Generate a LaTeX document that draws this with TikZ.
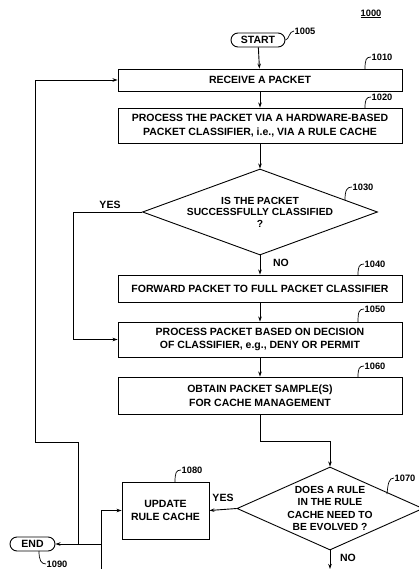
\documentclass[tikz,border=0pt]{standalone}
\usepackage{fontspec}
\setmainfont{Liberation Sans}
\usetikzlibrary{shapes.geometric,arrows.meta}
\begin{document}
\begin{tikzpicture}[x=1pt,y=-1pt,
  every node/.style={font=\bfseries\fontsize{10.5}{13.5}\selectfont},
  box/.style={draw, rectangle, align=center, inner sep=0pt, line width=0.9pt},
  dia/.style={draw, diamond, align=center, inner sep=-10pt, line width=0.9pt},
  term/.style={draw, rectangle, rounded corners=7pt, minimum height=14pt, inner sep=0pt, line width=0.9pt},
  refn/.style={font=\bfseries\fontsize{9.3}{10}\selectfont, anchor=west, inner sep=0.5pt},
  lead/.style={line width=0.7pt},
  flow/.style={line width=0.9pt, -{Stealth[length=5pt,width=3.5pt]}},
  tag/.style={inner sep=0pt}
]
\useasboundingbox (0,0) rectangle (419,569);

% figure number
\node[refn, anchor=center] (r1000) at (371,14) {\underline{1000}};

% nodes
\node[term, minimum width=54pt] (start) at (258,40) {START};
\node[box, minimum width=284pt, minimum height=22pt] (n1010) at (260,80) {RECEIVE A PACKET};
\node[box, minimum width=284pt, minimum height=35pt] (n1020) at (260,125.5)
  {PROCESS THE PACKET VIA A HARDWARE-BASED\\PACKET CLASSIFIER, i.e., VIA A RULE CACHE};
\node[dia, aspect=2.73, minimum width=235pt, minimum height=86pt,
  font=\bfseries\fontsize{10.3}{11.5}\selectfont] (d1030) at (260,212)
  {IS THE PACKET\\SUCCESSFULLY CLASSIFIED\\?};
\node[box, minimum width=284pt, minimum height=27pt] (n1040) at (260,288.5)
  {FORWARD PACKET TO FULL PACKET CLASSIFIER};
\node[box, minimum width=284pt, minimum height=35pt] (n1050) at (260,339.5)
  {PROCESS PACKET BASED ON DECISION\\OF CLASSIFIER, e.g., DENY OR PERMIT};
\node[box, minimum width=284pt, minimum height=37pt] (n1060) at (260,395.5)
  {OBTAIN PACKET SAMPLE(S)\\FOR CACHE MANAGEMENT};
\node[dia, aspect=2.24, minimum width=186pt, minimum height=83pt,
  font=\bfseries\fontsize{10.3}{12.3}\selectfont] (d1070) at (330,508.5)
  {DOES A RULE\\IN THE RULE\\CACHE NEED TO\\BE EVOLVED ?};
\node[box, minimum width=87pt, minimum height=57pt] (n1080) at (165.5,510.5)
  {UPDATE\\RULE CACHE};
\node[term, minimum width=45pt] (end) at (32.5,544) {END};

% reference numerals
\node[refn] (r1005) at (294,31) {1005};
\node[refn] (r1010) at (371,57) {1010};
\node[refn] (r1020) at (371,97) {1020};
\node[refn] (r1030) at (352,187) {1030};
\node[refn] (r1040) at (364,264) {1040};
\node[refn] (r1050) at (364,309) {1050};
\node[refn] (r1060) at (364,366) {1060};
\node[refn] (r1070) at (394,478) {1070};
\node[refn] (r1080) at (181,470) {1080};
\node[refn] (r1090) at (46,564) {1090};

\draw[lead] (start.east) .. controls (289,40) and (289,31) .. (r1005.west);
\draw[lead] (365,69) .. controls (365,60) and (366,57) .. (r1010.west);
\draw[lead] (365,108) .. controls (365,100) and (366,97) .. (r1020.west);
\draw[lead] (345,200) .. controls (345,190) and (347,187) .. (r1030.west);
\draw[lead] (358,275) .. controls (358,267) and (359,264) .. (r1040.west);
\draw[lead] (358,322) .. controls (358,312) and (359,309) .. (r1050.west);
\draw[lead] (358,377) .. controls (358,369) and (359,366) .. (r1060.west);
\draw[lead] (387,494) .. controls (388,483) and (389,478) .. (r1070.west);
\draw[lead] (175,482) .. controls (175,473) and (176,470) .. (r1080.west);
\draw[lead] (39,551) .. controls (39,560) and (41,564) .. (r1090.west);

% main flow
\draw[flow] (start) -- (n1010);
\draw[flow] (n1010) -- (n1020);
\draw[flow] (n1020) -- (d1030);
\draw[flow] (d1030) -- (n1040);
\node[tag] (no1) at (281,263) {NO};
\draw[flow] (n1040) -- (n1050);
\draw[flow] (n1050) -- (n1060);
\coordinate (c1) at (260,441);
\coordinate (c2) at (330,441);
\draw[flow] (n1060) -- (c1) -- (c2) -- (d1070);

% YES branch of 1030
\coordinate (y1) at (73,212);
\coordinate (y2) at (73,339.5);
\node[tag] (yes1) at (110,205) {YES};
\draw[flow] (d1030.west) -- (y1) -- (y2) -- (n1050.west);

% decision 1070
\node[tag] (yes2) at (223,498) {YES};
\draw[flow] (d1070.west) -- (n1080.east);
\coordinate (bot) at (330,569);
\node[tag] (no2) at (348,558) {NO};
\draw[flow] (d1070.south) -- (bot);

% bottom-left connections
\coordinate (b1) at (101,569);
\coordinate (b2) at (101,510.5);
\draw[flow] (b1) -- (b2) -- (n1080.west);
\coordinate (j1) at (101,544);
\draw[flow] (j1) -- (end.east);
\coordinate (j2) at (78,544);
\coordinate (l1) at (78,442);
\coordinate (l2) at (35,442);
\coordinate (l3) at (35,80);
\draw[flow] (j2) -- (l1) -- (l2) -- (l3) -- (n1010.west);
\end{tikzpicture}
\end{document}
